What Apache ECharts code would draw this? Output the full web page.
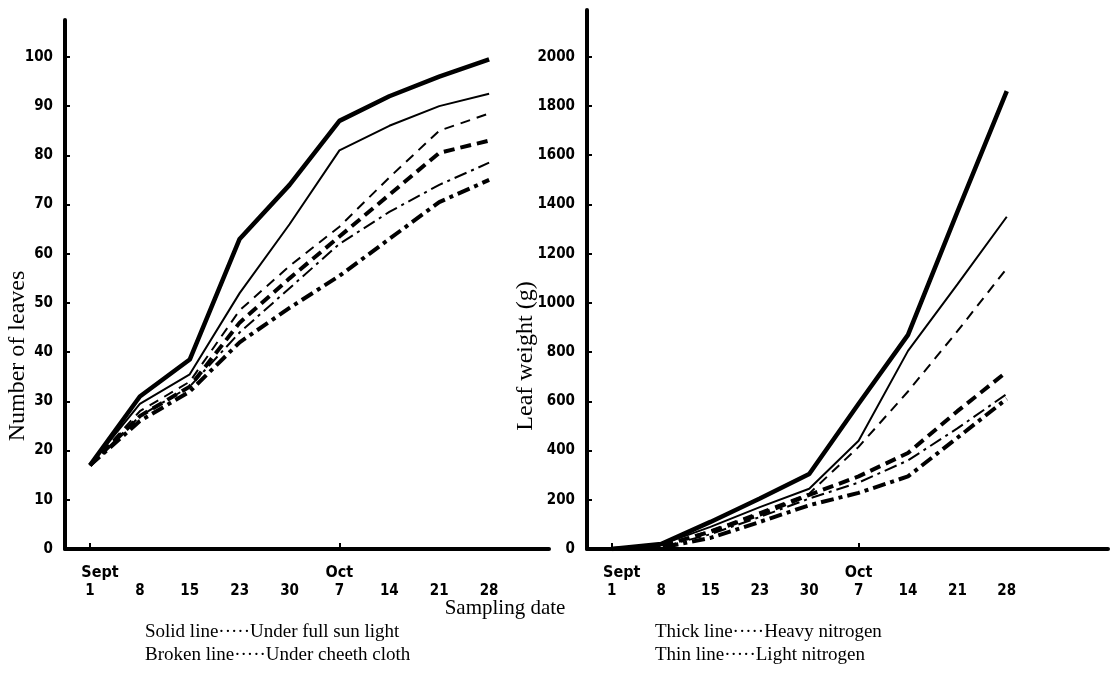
<!DOCTYPE html>
<html>
<head>
<meta charset="utf-8">
<script src="https://cdn.jsdelivr.net/npm/echarts@6/dist/echarts.min.js"></script>
<style>
  html, body { margin: 0; padding: 0; background: #fff; }
  #chart { width: 1117px; height: 695px; }
</style>
</head>
<body>
<div id="chart"></div>
<script>
// sampling dates (category labels)
const dates = ['1', '8', '15', '23', '30', '7', '14', '21', '28'];
const months = ['Sept', '', '', '', '', 'Oct', '', '', ''];
const leafTicks = [0, 10, 20, 30, 40, 50, 60, 70, 80, 90, 100];
const weightTicks = [0, 200, 400, 600, 800, 1000, 1200, 1400, 1600, 1800, 2000];

// number of leaves
const leavesThickSolid   = [17, 31, 38.5, 63, 74, 87, 92, 96, 99.5];
const leavesThinSolid    = [17, 29.5, 35.5, 52, 66, 81, 86, 90, 92.5];
const leavesThinDash     = [17, 28, 34, 48.5, 57.5, 65.5, 75.5, 85, 88.5];
const leavesThickDash    = [17, 27, 33, 46, 55, 63.5, 72, 80.5, 83];
const leavesThinDashDot  = [17, 27, 33, 44, 53, 62, 68.5, 74, 78.5];
const leavesThickDashDot = [17, 26, 32, 42, 49, 55.5, 63, 70.5, 75];

// leaf weight (g)
const weightThickSolid   = [0, 20, 110, 205, 305, 590, 870, 1370, 1860];
const weightThinSolid    = [0, 18, 90, 170, 245, 440, 805, 1075, 1350];
const weightThinDash     = [0, 12, 75, 150, 225, 415, 640, 885, 1140];
const weightThickDash    = [0, 12, 70, 140, 220, 295, 390, 560, 720];
const weightThinDashDot  = [0, 8, 60, 130, 205, 270, 360, 490, 630];
const weightThickDashDot = [0, 5, 45, 110, 178, 228, 295, 452, 610];

const chart = echarts.init(document.getElementById('chart'));

// x position of each sampling date (odd half-steps so the axis can run past the last date)
const xPos = dates.map((d, i) => 2 * i + 1);
const pairs = vals => vals.map((v, i) => [xPos[i], v]);

const styles = {
  thickSolid:   { width: 4.5, type: 'solid' },
  thinSolid:    { width: 2, type: 'solid' },
  thinDash:     { width: 2, type: [10, 7] },
  thickDash:    { width: 4, type: [11, 6] },
  thinDashDot:  { width: 2, type: [13, 5, 3, 5] },
  thickDashDot: { width: 4, type: [13, 5, 4, 5] }
};

function line(name, vals, style, idx) {
  return {
    name: name,
    type: 'line',
    xAxisIndex: idx,
    yAxisIndex: idx,
    data: pairs(vals),
    symbol: 'none',
    silent: true,
    lineStyle: { color: '#000', width: style.width, type: style.type, cap: 'butt' },
    z: 3
  };
}

const tickFont = 'DejaVu Sans Condensed';

function makeX(idx, max) {
  return {
    type: 'value',
    gridIndex: idx,
    min: 0,
    max: max,
    interval: 1,
    axisLine: { onZero: false, lineStyle: { color: '#000', width: 4 } },
    splitLine: { show: false },
    axisTick: { customValues: [1, 11], inside: true, length: 6, lineStyle: { color: '#000', width: 2 } },
    axisLabel: {
      customValues: xPos,
      margin: 15,
      formatter: v => {
        const i = (v - 1) / 2;
        let m = '{m| }';
        if (i === 0) m = '{s|' + months[i] + '}';
        else if (months[i]) m = '{m|' + months[i] + '}';
        return m + '\n{d|' + dates[i] + '}';
      },
      rich: {
        s: { fontFamily: tickFont, fontWeight: 'bold', fontSize: 16, color: '#000', lineHeight: 18, padding: [0, 0, 0, 20] },
        m: { fontFamily: tickFont, fontWeight: 'bold', fontSize: 16, color: '#000', lineHeight: 18 },
        d: { fontFamily: tickFont, fontWeight: 'bold', fontSize: 15, color: '#000', lineHeight: 18 }
      }
    }
  };
}

function makeY(idx, max, ticks) {
  return {
    type: 'value',
    gridIndex: idx,
    min: 0,
    max: max,
    axisLine: { show: true, lineStyle: { color: '#000', width: 4 } },
    splitLine: { show: false },
    axisTick: { show: true, customValues: ticks, inside: true, length: 5, lineStyle: { color: '#000', width: 2 } },
    axisLabel: {
      customValues: ticks,
      margin: 12,
      formatter: v => String(v),
      fontFamily: tickFont,
      fontWeight: 'bold',
      fontSize: 15,
      color: '#000'
    }
  };
}

const option = {
  backgroundColor: '#fff',
  animation: false,
  grid: [
    { left: 65, top: 20, width: 484, height: 529 },
    { left: 587, top: 10, width: 521, height: 539 }
  ],
  xAxis: [makeX(0, 19.4), makeX(1, 21.1)],
  yAxis: [makeY(0, 107.5, leafTicks), makeY(1, 2190, weightTicks)],
  series: [
    line('leaves thick solid', leavesThickSolid, styles.thickSolid, 0),
    line('leaves thin solid', leavesThinSolid, styles.thinSolid, 0),
    line('leaves thin broken', leavesThinDash, styles.thinDash, 0),
    line('leaves thick broken', leavesThickDash, styles.thickDash, 0),
    line('leaves thin dash-dot', leavesThinDashDot, styles.thinDashDot, 0),
    line('leaves thick dash-dot', leavesThickDashDot, styles.thickDashDot, 0),
    line('weight thick solid', weightThickSolid, styles.thickSolid, 1),
    line('weight thin solid', weightThinSolid, styles.thinSolid, 1),
    line('weight thin broken', weightThinDash, styles.thinDash, 1),
    line('weight thick broken', weightThickDash, styles.thickDash, 1),
    line('weight thin dash-dot', weightThinDashDot, styles.thinDashDot, 1),
    line('weight thick dash-dot', weightThickDashDot, styles.thickDashDot, 1)
  ],
  graphic: [
    { type: 'text', x: 18, y: 356, rotation: Math.PI / 2,
      style: { text: 'Number of leaves', font: '24px "Liberation Serif"', fill: '#000', align: 'center', verticalAlign: 'middle' } },
    { type: 'text', x: 526, y: 356, rotation: Math.PI / 2,
      style: { text: 'Leaf weight (g)', font: '24px "Liberation Serif"', fill: '#000', align: 'center', verticalAlign: 'middle' } },
    { type: 'text', x: 505, y: 608,
      style: { text: 'Sampling date', font: '21px "Liberation Serif"', fill: '#000', align: 'center', verticalAlign: 'middle' } },
    { type: 'text', x: 145, y: 632,
      style: { text: 'Solid line·····Under full sun light', font: '19px "Liberation Serif"', fill: '#000', align: 'left', verticalAlign: 'middle' } },
    { type: 'text', x: 145, y: 655,
      style: { text: 'Broken line·····Under cheeth cloth', font: '19px "Liberation Serif"', fill: '#000', align: 'left', verticalAlign: 'middle' } },
    { type: 'text', x: 655, y: 632,
      style: { text: 'Thick line·····Heavy nitrogen', font: '19px "Liberation Serif"', fill: '#000', align: 'left', verticalAlign: 'middle' } },
    { type: 'text', x: 655, y: 655,
      style: { text: 'Thin line·····Light nitrogen', font: '19px "Liberation Serif"', fill: '#000', align: 'left', verticalAlign: 'middle' } }
  ]
};

chart.setOption(option);
</script>
</body>
</html>
